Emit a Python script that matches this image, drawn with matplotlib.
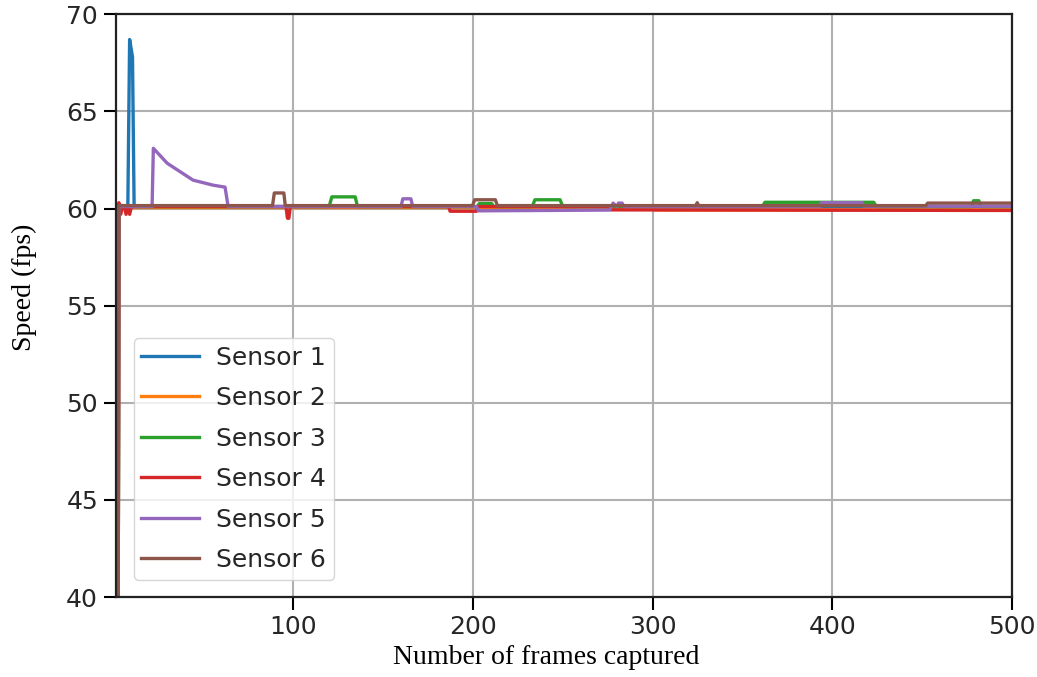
import matplotlib
matplotlib.use("Agg")
import matplotlib.pyplot as plt

# vertices (frame number, fps)
s1_x = [2, 3, 8, 9, 10.6, 11.5, 500]
s1_y = [0, 60.1, 60.1, 68.7, 67.8, 60.1, 60.1]

s2_x = [2, 3, 300, 301, 500]
s2_y = [0, 60.05, 60.05, 59.93, 59.93]

s3_x = [2, 3, 120, 121.5, 134.5, 135.8, 202.5, 203.5, 210.5, 211.5, 233, 234.5,
        248.5, 250, 361, 362.5, 423, 424.5, 477.5, 478.5, 481.5, 482.5, 500]
s3_y = [0, 60.1, 60.1, 60.6, 60.6, 60.1, 60.1, 60.25, 60.25, 60.1, 60.1, 60.45,
        60.45, 60.1, 60.1, 60.32, 60.32, 60.1, 60.1, 60.4, 60.4, 60.1, 60.1]

s4_x = [2, 3, 4, 5, 6, 7, 8, 9, 10, 96, 96.8, 97.6, 98.4, 186.5, 187.3,
        202, 202.8, 276, 276.8, 500]
s4_y = [0, 60.3, 59.7, 60.1, 60.1, 59.7, 60.1, 59.7, 60.1, 60.1, 59.5, 59.5, 60.1, 60.1, 59.86,
        59.86, 60.1, 60.1, 59.93, 59.9]

s5_x = [2, 3, 21.5, 22.2, 23.2, 29.9, 44.3, 55.5, 62.1, 63.8, 160, 161, 165.5, 166.5,
        202, 203, 276, 277, 278, 280, 281, 283, 284, 393, 394, 416.5, 417.5, 500]
s5_y = [0, 60.1, 60.1, 63.1, 63.0, 62.33, 61.46, 61.2, 61.1, 60.1, 60.1, 60.5, 60.5, 60.1,
        60.1, 59.88, 59.92, 60.1, 60.28, 60.1, 60.28, 60.28, 60.1, 60.1, 60.3, 60.3, 60.12, 60.12]

s6_x = [2, 3, 88.5, 89.5, 94.8, 95.6, 199.8, 201, 212.5, 213.6, 324, 324.8, 325.6,
        452, 453, 500]
s6_y = [0, 60.15, 60.15, 60.8, 60.8, 60.15, 60.15, 60.45, 60.45, 60.15, 60.15, 60.3, 60.15,
        60.15, 60.28, 60.28]

series = [(s1_x, s1_y), (s2_x, s2_y), (s3_x, s3_y), (s4_x, s4_y), (s5_x, s5_y), (s6_x, s6_y)]
labels = ['Sensor 1', 'Sensor 2', 'Sensor 3', 'Sensor 4', 'Sensor 5', 'Sensor 6']
x_ticks = [100, 200, 300, 400, 500]
y_ticks = [40, 45, 50, 55, 60, 65, 70]

fig = plt.figure(figsize=(10.37, 6.77), dpi=100)
ax = fig.add_axes([0.112, 0.118, 0.864, 0.861])

for (xs, ys), lab in zip(series, labels):
    ax.plot(xs, ys, lw=2.4, label=lab)

ax.set_xlim(1.5, 500)
ax.set_ylim(40, 70)
ax.set_xticks(x_ticks)
ax.set_yticks(y_ticks)
ax.grid(True, color='#b0b0b0', lw=1.5)
ax.set_axisbelow(True)

ax.tick_params(labelsize=18, labelcolor='#262626', length=9, width=1.5, pad=4)
for sp in ax.spines.values():
    sp.set_linewidth(1.6)
    sp.set_color('#222222')

ax.set_xlabel('Number of frames captured', family='Liberation Serif', fontsize=20)
ax.set_ylabel('Speed (fps)', family='Liberation Serif', fontsize=20)
ax.xaxis.set_label_coords(0.48, -0.083)
ax.yaxis.set_label_coords(-0.088, 0.532)

leg = ax.legend(loc='lower left', fontsize=18, handlelength=2.3, handletextpad=0.7,
                borderpad=0.3, labelspacing=0.66, borderaxespad=0.7)
for t in leg.get_texts():
    t.set_color('#262626')

fig.savefig('out.png', dpi=100)
